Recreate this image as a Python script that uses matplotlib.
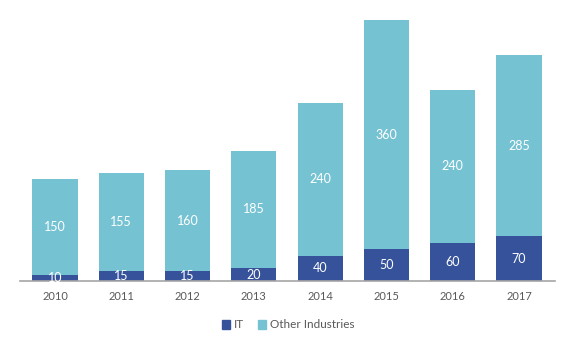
import numpy as np
import matplotlib.pyplot as plt
from matplotlib.patches import Patch

years = ["2010", "2011", "2012", "2013", "2014", "2015", "2016", "2017"]
it = [10, 15, 15, 20, 40, 50, 60, 70]
other = [150, 155, 160, 185, 240, 360, 240, 285]

c_it = "#36529A"
c_other = "#75C2D3"

plt.rcParams['font.family'] = ['Lato', 'DejaVu Sans']

fig = plt.figure(figsize=(5.76, 3.48), dpi=100)
ax = fig.add_axes([20/576, 1-281/348, 535/576, 261/348])

x = np.arange(len(years))
w = 0.68
b1 = ax.bar(x, it, w, color=c_it)
b2 = ax.bar(x, other, w, bottom=it, color=c_other)

for i in range(len(x)):
    ax.text(x[i], it[i]/2, str(it[i]), ha="center", va="center", color="white", fontsize=9)
    ax.text(x[i], it[i] + other[i]/2, str(other[i]), ha="center", va="center", color="white", fontsize=9)

ax.set_xlim(-0.528, 7.543)
ax.set_ylim(0, 410)
ax.set_xticks(x)
ax.set_xticklabels(years, fontsize=8, color="#595959")
ax.tick_params(axis="x", length=0, pad=7)
ax.set_yticks([])
for s in ["top", "right", "left"]:
    ax.spines[s].set_visible(False)
ax.spines["bottom"].set_color("#A6A6A6")
ax.spines["bottom"].set_linewidth(1.2)

handles = [Patch(color=c_it, label="IT"), Patch(color=c_other, label="Other Industries")]
fig.legend(handles=handles, loc="center", bbox_to_anchor=(288/576, 1-325/348), ncol=2,
           frameon=False, fontsize=8.5, handlelength=0.7, handleheight=0.7,
           handletextpad=0.3, columnspacing=1.2, labelcolor="#595959")

fig.savefig("out.png", dpi=100)
